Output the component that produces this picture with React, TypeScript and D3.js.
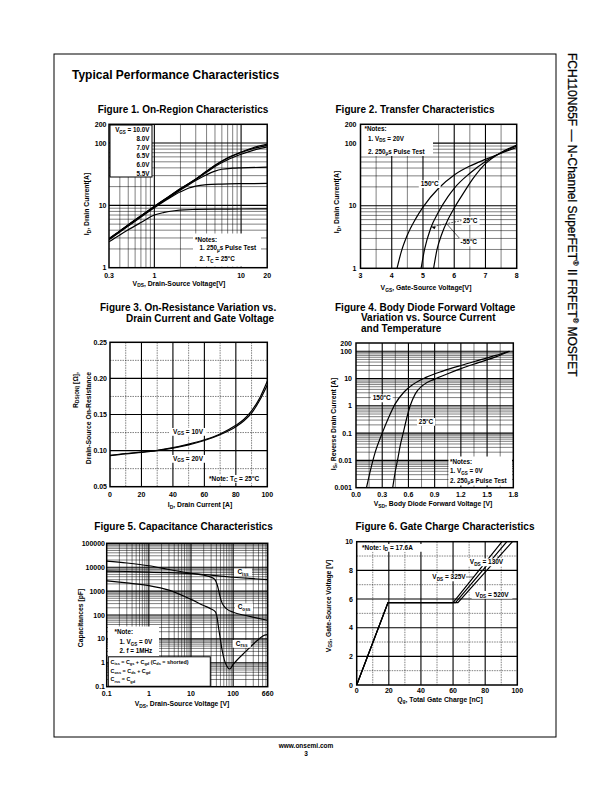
import React from "react";
import * as d3 from "d3";

type Pt = [number, number];
type Scale = (v: number) => number;

const FONT = "'Liberation Sans', Arial, Helvetica, sans-serif";

// ---------------- Figure 1: On-Region Characteristics ----------------
const fig1XTicks = [0.3, 1, 10, 20];
const fig1YTicks = [1, 10, 100, 200];
const fig1Vgs10: Pt[] = [[0.3, 2.95], [0.4, 3.9], [0.5, 4.9], [0.7, 6.8], [1, 9.7], [1.5, 14.2], [2, 18.6], [3, 26.5], [4, 35.5], [5, 44], [7, 58], [10, 72], [14, 85], [20, 96]];
const fig1Vgs8: Pt[] = [[0.3, 2.9], [0.5, 4.85], [1, 9.6], [1.5, 14.1], [2, 18.4], [3, 26.3], [4, 35], [5, 43.5], [7, 57], [10, 70.5], [14, 82], [20, 92]];
const fig1Vgs7: Pt[] = [[0.3, 2.88], [0.5, 4.8], [1, 9.5], [1.5, 13.9], [2, 18.2], [3, 26], [4, 34], [5, 42], [7, 54], [10, 66], [14, 77], [20, 87]];
const fig1Vgs65: Pt[] = [[0.3, 2.85], [0.5, 4.75], [1, 9.4], [1.5, 13.6], [2, 17.6], [2.5, 21.5], [3, 25], [4, 31], [5, 35.5], [6, 38], [8, 39.5], [10, 40], [20, 41]];
const fig1Vgs6: Pt[] = [[0.3, 2.8], [0.5, 4.65], [1, 9.2], [1.5, 13.2], [2, 16.5], [2.5, 19], [3, 20.4], [4, 21.5], [6, 22], [10, 22.3], [20, 22.5]];
const fig1Vgs55: Pt[] = [[0.3, 2.6], [0.4, 3.35], [0.5, 4.05], [0.7, 5.3], [1, 7.0], [1.3, 7.7], [1.7, 8.2], [2.2, 8.5], [3, 8.6], [5, 8.7], [10, 8.75], [20, 8.8]];
const fig1Legend = ["V_{GS} = 10.0V", "8.0V", "7.0V", "6.5V", "6.0V", "5.5V"];
const fig1Notes = ["*Notes:", "1. 250_{μ}s Pulse Test", "2. T_{C} = 25^{o}C"];

// ---------------- Figure 2: Transfer Characteristics ----------------
const fig2XTicks = [3, 4, 5, 6, 7, 8];
const fig2YTicks = [1, 10, 100, 200];
const fig2T150: Pt[] = [[4.17, 1], [4.3, 1.8], [4.5, 3.4], [4.75, 6], [5, 9.5], [5.5, 19], [6, 31], [6.5, 43], [7, 55], [7.5, 69], [8, 85]];
const fig2T25: Pt[] = [[4.94, 1], [5.05, 2], [5.25, 4.4], [5.5, 8], [5.8, 14], [6, 19], [6.5, 33], [7, 51], [7.5, 70], [8, 90]];
const fig2Tm55: Pt[] = [[5.34, 1], [5.45, 2], [5.6, 3.5], [5.8, 6], [6, 9.2], [6.3, 16], [6.6, 27], [7, 47], [7.5, 71], [8, 93]];
const fig2Notes = ["*Notes:", "1. V_{DS} = 20V", "2. 250_{μ}s Pulse Test"];

// ---------------- Figure 3: On-Resistance ----------------
const fig3XTicks = [0, 20, 40, 60, 80, 100];
const fig3YTicks = [0.05, 0.1, 0.15, 0.2, 0.25];
const fig3Vgs10: Pt[] = [[0, 0.0935], [10, 0.096], [20, 0.098], [30, 0.1005], [40, 0.104], [50, 0.109], [60, 0.115], [70, 0.123], [80, 0.135], [85, 0.143], [90, 0.155], [95, 0.172], [100, 0.196]];
const fig3Vgs20: Pt[] = [[0, 0.093], [10, 0.0955], [20, 0.0975], [30, 0.1], [40, 0.1035], [50, 0.108], [60, 0.114], [70, 0.122], [80, 0.133], [85, 0.141], [90, 0.152], [95, 0.169], [100, 0.191]];

// ---------------- Figure 4: Body Diode ----------------
const fig4XTicks = [0, 0.3, 0.6, 0.9, 1.2, 1.5, 1.8];
const fig4YTicks = [0.001, 0.01, 0.1, 1, 10, 100, 200];
const fig4T150: Pt[] = [[0.12, 0.001], [0.17, 0.005], [0.22, 0.02], [0.3, 0.1], [0.37, 0.35], [0.45, 1.2], [0.55, 3.2], [0.65, 6], [0.8, 11], [1.0, 19], [1.2, 30], [1.4, 46], [1.6, 70], [1.75, 100]];
const fig4T25: Pt[] = [[0.42, 0.001], [0.45, 0.004], [0.475, 0.01], [0.51, 0.04], [0.54, 0.1], [0.58, 0.35], [0.62, 1], [0.68, 2.8], [0.76, 5.5], [0.9, 9.5], [1.05, 15], [1.2, 23], [1.4, 38], [1.6, 62], [1.76, 100]];
const fig4Notes = ["*Notes:", "1. V_{GS} = 0V", "2. 250_{μ}s Pulse Test"];

// ---------------- Figure 5: Capacitance ----------------
const fig5XTicks = [0.1, 1, 10, 100, 660];
const fig5YTicks = [0.1, 1, 10, 100, 1000, 10000, 100000];
const fig5Ciss: Pt[] = [[0.1, 6900], [0.3, 6600], [1, 6200], [3, 5900], [10, 5400], [30, 4700], [50, 4200], [100, 3800], [300, 3300], [660, 3000]];
const fig5Coss: Pt[] = [[0.1, 18000], [0.3, 15000], [1, 11500], [3, 8000], [10, 5600], [20, 4600], [30, 3800], [37, 3000], [42, 1800], [47, 800], [52, 400], [58, 260], [70, 180], [100, 130], [200, 95], [400, 72], [660, 60]];
const fig5Crss: Pt[] = [[0.1, 2700], [0.3, 2200], [1, 1700], [3, 1100], [10, 450], [20, 250], [30, 180], [38, 135], [42, 70], [45, 30], [50, 9], [55, 3.2], [62, 1.3], [70, 0.75], [83, 0.55], [100, 0.85], [200, 3], [400, 9.5], [560, 14.5], [660, 15]];
const fig5Notes = ["*Note:", "1. V_{GS} = 0V", "2. f = 1MHz"];
const fig5Defs = ["C_{iss} = C_{gs} + C_{gd} (C_{ds} = shorted)", "C_{oss} = C_{ds} + C_{gd}", "C_{rss} = C_{gd}"];

// ---------------- Figure 6: Gate Charge ----------------
const fig6XTicks = [0, 20, 40, 60, 80, 100];
const fig6YTicks = [0, 2, 4, 6, 8, 10];
const fig6V130: Pt[] = [[0, 0], [19.5, 5.75], [60, 5.75], [90.5, 10]];
const fig6V325: Pt[] = [[0, 0], [19.5, 5.75], [61.5, 5.75], [93.5, 10]];
const fig6V520: Pt[] = [[0, 0], [19.5, 5.75], [63, 5.75], [97, 10]];

// ---------------- helpers ----------------
function rich(str: string, size: number) {
  const tokens = str.split(/(_\{[^}]*\}|\^\{[^}]*\})/).filter((s) => s.length);
  let shift = 0;
  return tokens.map((tk, i) => {
    let text = tk;
    let target = 0;
    let fs: number | undefined;
    if (tk.startsWith("_{")) {
      text = tk.slice(2, -1);
      target = size * 0.28;
      fs = size * 0.72;
    } else if (tk.startsWith("^{")) {
      text = tk.slice(2, -1);
      target = -size * 0.42;
      fs = size * 0.62;
    }
    const dy = target - shift;
    shift = target;
    return (
      <tspan key={i} dy={dy !== 0 ? dy : undefined} fontSize={fs}>
        {text}
      </tspan>
    );
  });
}

function plainLen(str: string) {
  return str.replace(/[_^]\{([^}]*)\}/g, "$1").length;
}

function T({ x, y, s, size = 7, anchor = "start", weight = "bold", rotate = 0 }: { x: number; y: number; s: string; size?: number; anchor?: string; weight?: string; rotate?: number }) {
  return (
    <text
      x={rotate ? 0 : x}
      y={rotate ? 0 : y}
      transform={rotate ? `translate(${x},${y}) rotate(${rotate})` : undefined}
      fontSize={size}
      fontWeight={weight}
      textAnchor={anchor}
      fontFamily={FONT}
      fill="#000"
    >
      {rich(s, size)}
    </text>
  );
}

function BgLabel({ x, y, s, size = 6.5, anchor = "middle" }: { x: number; y: number; s: string; size?: number; anchor?: string }) {
  const w = plainLen(s) * size * 0.58 + 3;
  const left = anchor === "middle" ? x - w / 2 : anchor === "end" ? x - w + 1.5 : x - 1.5;
  return (
    <g>
      <rect x={left} y={y - size * 0.85} width={w} height={size * 1.2} fill="#fff" />
      <T x={x} y={y} s={s} size={size} anchor={anchor} />
    </g>
  );
}

function logGrid(lo: number, hi: number) {
  const major: number[] = [];
  const minor: number[] = [];
  for (let e = Math.floor(Math.log10(lo)) - 1; e <= Math.ceil(Math.log10(hi)); e++) {
    for (let m = 1; m <= 9; m++) {
      const v = m * Math.pow(10, e);
      if (v > lo * 1.0001 && v < hi * 0.9999) (m === 1 ? major : minor).push(v);
    }
  }
  return { major, minor };
}

function linGrid(lo: number, hi: number, step: number, majorEvery: number) {
  const major: number[] = [];
  const minor: number[] = [];
  const n = Math.round((hi - lo) / step);
  for (let i = 1; i < n; i++) (i % majorEvery === 0 ? major : minor).push(lo + i * step);
  return { major, minor };
}

interface Box { x: number; y: number; w: number; h: number }

function Panel(props: {
  id: string;
  box: Box;
  xLog?: boolean;
  yLog?: boolean;
  xDomain: [number, number];
  yDomain: [number, number];
  xGrid: { major: number[]; minor: number[] };
  yGrid: { major: number[]; minor: number[] };
  xTicks: number[];
  yTicks: number[];
  xFmt: (v: number) => string;
  yFmt: (v: number) => string;
  xTickY: number;
  yTickX: number;
  series: Pt[][];
  linear?: boolean;
  minorDash?: string;
  overlay?: (sx: Scale, sy: Scale) => React.ReactNode;
}) {
  const { box, xDomain, yDomain } = props;
  const sx = (props.xLog ? d3.scaleLog() : d3.scaleLinear()).domain(xDomain).range([box.x, box.x + box.w]);
  const sy = (props.yLog ? d3.scaleLog() : d3.scaleLinear()).domain(yDomain).range([box.y + box.h, box.y]);
  const line = d3
    .line<Pt>()
    .x((d) => sx(d[0]))
    .y((d) => sy(d[1]))
    .curve(props.linear ? d3.curveLinear : d3.curveMonotoneX);
  const cid = "clip-" + props.id;
  return (
    <g>
      <defs>
        <clipPath id={cid}>
          <rect x={box.x} y={box.y} width={box.w} height={box.h} />
        </clipPath>
      </defs>
      <rect x={box.x} y={box.y} width={box.w} height={box.h} fill="#fff" />
      {props.xGrid.minor.map((v, i) => (
        <line key={"xm" + i} x1={sx(v)} x2={sx(v)} y1={box.y} y2={box.y + box.h} stroke="#000" strokeWidth={0.5} strokeDasharray={props.minorDash} />
      ))}
      {props.yGrid.minor.map((v, i) => (
        <line key={"ym" + i} x1={box.x} x2={box.x + box.w} y1={sy(v)} y2={sy(v)} stroke="#000" strokeWidth={0.5} strokeDasharray={props.minorDash} />
      ))}
      {props.xGrid.major.map((v, i) => (
        <line key={"xM" + i} x1={sx(v)} x2={sx(v)} y1={box.y} y2={box.y + box.h} stroke="#000" strokeWidth={1.1} />
      ))}
      {props.yGrid.major.map((v, i) => (
        <line key={"yM" + i} x1={box.x} x2={box.x + box.w} y1={sy(v)} y2={sy(v)} stroke="#000" strokeWidth={1.1} />
      ))}
      <g clipPath={`url(#${cid})`}>
        {props.series.map((s, i) => (
          <path key={"s" + i} d={line(s) || ""} fill="none" stroke="#000" strokeWidth={1.2} />
        ))}
      </g>
      {props.overlay ? props.overlay(sx, sy) : null}
      <rect x={box.x} y={box.y} width={box.w} height={box.h} fill="none" stroke="#000" strokeWidth={1.5} />
      {props.xTicks.map((v, i) => (
        <T key={"xt" + i} x={sx(v)} y={props.xTickY} s={props.xFmt(v)} anchor="middle" />
      ))}
      {props.yTicks.map((v, i) => (
        <T key={"yt" + i} x={props.yTickX} y={sy(v) + 2.5} s={props.yFmt(v)} anchor="end" />
      ))}
    </g>
  );
}

const fmtPlain = (v: number) => String(v);

export default function App() {
  const b1: Box = { x: 109, y: 124.3, w: 158.2, h: 143.4 };
  const b2: Box = { x: 360.5, y: 124.3, w: 156.2, h: 144 };
  const b3: Box = { x: 110, y: 342.3, w: 157.3, h: 144.4 };
  const b4: Box = { x: 356, y: 343, w: 157.3, h: 144.7 };
  const b5: Box = { x: 106.7, y: 543.3, w: 161, h: 143.4 };
  const b6: Box = { x: 356.7, y: 541.7, w: 160.6, h: 143.3 };

  const fig1Curves = [fig1Vgs10, fig1Vgs8, fig1Vgs7, fig1Vgs65, fig1Vgs6, fig1Vgs55];
  const fig2Curves = [fig2T150, fig2T25, fig2Tm55];
  const fig3Curves = [fig3Vgs10, fig3Vgs20];
  const fig4Curves = [fig4T150, fig4T25];
  const fig5Curves = [fig5Ciss, fig5Coss, fig5Crss];
  const fig6Curves = [fig6V130, fig6V325, fig6V520];

  return (
    <svg width={612} height={792} style={{ position: "absolute", left: 0, top: 0, background: "#fff" }} xmlns="http://www.w3.org/2000/svg">
      <rect x={0} y={0} width={612} height={792} fill="#fff" />
      {/* page frame */}
      <rect x={54} y={54} width={502} height={683} fill="none" stroke="#000" strokeWidth={1} />
      <T x={72} y={78.5} s="Typical Performance Characteristics" size={12} />

      {/* side title */}
      <text transform="translate(567.5,53) rotate(90)" fontSize={12} fontFamily={FONT} fill="#000" stroke="#000" strokeWidth={0.25}>
        {rich("FCH110N65F — N-Channel SuperFET^{®} II FRFET^{®} MOSFET", 12)}
      </text>

      {/* footer */}
      <T x={306} y={747.5} s="www.onsemi.com" size={6.5} anchor="middle" />
      <T x={306} y={756} s="3" size={6.5} anchor="middle" />

      {/* ---------- Figure 1 ---------- */}
      <T x={183} y={112.5} s="Figure 1. On-Region Characteristics" size={10} anchor="middle" />
      <Panel
        id="f1"
        box={b1}
        xLog
        yLog
        xDomain={[0.3, 20]}
        yDomain={[1, 200]}
        xGrid={logGrid(0.3, 20)}
        yGrid={logGrid(1, 200)}
        xTicks={fig1XTicks}
        yTicks={fig1YTicks}
        xFmt={fmtPlain}
        yFmt={fmtPlain}
        xTickY={277.5}
        yTickX={106.5}
        series={fig1Curves}
        overlay={() => (
          <g>
            <rect x={110} y={125} width={42} height={52} fill="#fff" stroke="#000" strokeWidth={1} />
            {fig1Legend.map((s, i) => (
              <T key={i} x={149.5} y={[131.8, 140.8, 149.8, 158.3, 166.5, 175.5][i]} s={s} size={6.3} anchor="end" />
            ))}
            <rect x={193} y={233.5} width={68} height={33} fill="#fff" />
            {fig1Notes.map((s, i) => (
              <T key={i} x={i === 0 ? 195 : 199.5} y={[241.8, 250, 261][i]} s={s} size={6.3} />
            ))}
          </g>
        )}
      />
      <T x={89} y={204} s="I_{D}, Drain Current[A]" size={6.8} anchor="middle" rotate={-90} />
      <T x={179} y={285.5} s="V_{DS}, Drain-Source Voltage[V]" size={6.8} anchor="middle" />

      {/* ---------- Figure 2 ---------- */}
      <T x={415} y={112.5} s="Figure 2. Transfer Characteristics" size={10} anchor="middle" />
      <Panel
        id="f2"
        box={b2}
        yLog
        xDomain={[3, 8]}
        yDomain={[1, 200]}
        xGrid={linGrid(3, 8, 0.5, 2)}
        yGrid={logGrid(1, 200)}
        xTicks={fig2XTicks}
        yTicks={fig2YTicks}
        xFmt={fmtPlain}
        yFmt={fmtPlain}
        xTickY={278}
        yTickX={356.5}
        series={fig2Curves}
        overlay={(sx, sy) => (
          <g>
            <rect x={361} y={125} width={72} height={31} fill="#fff" />
            {fig2Notes.map((s, i) => (
              <T key={i} x={i === 0 ? 364.5 : 368} y={[131, 140.5, 153.5][i]} s={s} size={6.3} />
            ))}
            <BgLabel x={429.7} y={185.8} s="150^{o}C" />
            <line x1={462} y1={220.5} x2={sx(5.27)} y2={sy(4.6)} stroke="#000" strokeWidth={0.6} strokeDasharray="2,1" />
            <path d={`M${sx(5.27)},${sy(4.6)} l4.5,-0.2 l-1.5,2.6 z`} fill="#000" />
            <BgLabel x={463} y={222.5} s="25^{o}C" anchor="start" />
            <line x1={461} y1={240} x2={sx(5.75)} y2={sy(5.2)} stroke="#000" strokeWidth={0.6} />
            <BgLabel x={460.5} y={244} s="-55^{o}C" anchor="start" />
          </g>
        )}
      />
      <T x={339} y={202} s="I_{D}, Drain Current[A]" size={6.8} anchor="middle" rotate={-90} />
      <T x={426} y={290} s="V_{GS}, Gate-Source Voltage[V]" size={6.8} anchor="middle" />

      {/* ---------- Figure 3 ---------- */}
      <T x={100} y={310.5} s="Figure 3. On-Resistance Variation vs." size={10} />
      <T x={126} y={321.5} s="Drain Current and Gate Voltage" size={10} />
      <Panel
        id="f3"
        box={b3}
        xDomain={[0, 100]}
        yDomain={[0.05, 0.25]}
        xGrid={linGrid(0, 100, 10, 2)}
        yGrid={linGrid(0.05, 0.25, 0.025, 2)}
        xTicks={fig3XTicks}
        yTicks={fig3YTicks}
        xFmt={fmtPlain}
        yFmt={(v) => v.toFixed(2)}
        xTickY={497}
        yTickX={107}
        series={fig3Curves}
        minorDash="1.5,1"
        overlay={() => (
          <g>
            <BgLabel x={188} y={433.5} s="V_{GS} = 10V" />
            <BgLabel x={188} y={460.5} s="V_{GS} = 20V" />
            <BgLabel x={209} y={480.5} s="*Note: T_{C} = 25^{o}C" anchor="start" />
          </g>
        )}
      />
      <T x={77.5} y={372} s="R_{DS(ON)} [Ω]," size={6.8} anchor="end" rotate={-90} />
      <T x={90.5} y={372} s="Drain-Source On-Resistance" size={6.8} anchor="end" rotate={-90} />
      <T x={200} y={507} s="I_{D}, Drain Current [A]" size={6.8} anchor="middle" />

      {/* ---------- Figure 4 ---------- */}
      <T x={335} y={310.5} s="Figure 4. Body Diode Forward Voltage" size={10} />
      <T x={361} y={321} s="Variation vs. Source Current" size={10} />
      <T x={361} y={331.5} s="and Temperature" size={10} />
      <Panel
        id="f4"
        box={b4}
        yLog
        xDomain={[0, 1.8]}
        yDomain={[0.001, 200]}
        xGrid={linGrid(0, 1.8, 0.15, 2)}
        yGrid={logGrid(0.001, 200)}
        xTicks={fig4XTicks}
        yTicks={fig4YTicks}
        xFmt={(v) => v.toFixed(1)}
        yFmt={fmtPlain}
        xTickY={497}
        yTickX={352}
        series={fig4Curves}
        overlay={() => (
          <g>
            <BgLabel x={381.7} y={400} s="150^{o}C" />
            <BgLabel x={426} y={423.5} s="25^{o}C" />
            <rect x={448.5} y={456.5} width={63.5} height={29} fill="#fff" />
            {fig4Notes.map((s, i) => (
              <T key={i} x={450} y={[463.5, 473, 482.5][i]} s={s} size={6.3} />
            ))}
          </g>
        )}
      />
      <T x={335.5} y={424} s="I_{S}, Reverse Drain Current [A]" size={6.8} anchor="middle" rotate={-90} />
      <T x={433} y={506} s="V_{SD}, Body Diode Forward Voltage [V]" size={6.8} anchor="middle" />

      {/* ---------- Figure 5 ---------- */}
      <T x={183.5} y={530} s="Figure 5. Capacitance Characteristics" size={10} anchor="middle" />
      <Panel
        id="f5"
        box={b5}
        xLog
        yLog
        xDomain={[0.1, 660]}
        yDomain={[0.1, 100000]}
        xGrid={logGrid(0.1, 660)}
        yGrid={logGrid(0.1, 100000)}
        xTicks={fig5XTicks}
        yTicks={fig5YTicks}
        xFmt={fmtPlain}
        yFmt={fmtPlain}
        xTickY={695.5}
        yTickX={105}
        series={fig5Curves}
        overlay={() => (
          <g>
            <BgLabel x={243} y={574} s="C_{iss}" />
            <BgLabel x={244} y={609} s="C_{oss}" />
            <BgLabel x={241.7} y={645.5} s="C_{rss}" />
            <rect x={108} y={626.5} width={51} height={30.5} fill="#fff" />
            {fig5Notes.map((s, i) => (
              <T key={i} x={i === 0 ? 114.5 : 119.5} y={[634, 644, 653][i]} s={s} size={6.3} />
            ))}
            <rect x={108.3} y={656.8} width={102} height={29.5} fill="#fff" stroke="#000" strokeWidth={1} />
            {fig5Defs.map((s, i) => (
              <T key={i} x={110.5} y={[663.5, 672.5, 681][i]} s={s} size={5.4} />
            ))}
          </g>
        )}
      />
      <T x={82.5} y={618} s="Capacitances [pF]" size={6.8} anchor="middle" rotate={-90} />
      <T x={182} y={706} s="V_{DS}, Drain-Source Voltage [V]" size={6.8} anchor="middle" />

      {/* ---------- Figure 6 ---------- */}
      <T x={445} y={530} s="Figure 6. Gate Charge Characteristics" size={10} anchor="middle" />
      <Panel
        id="f6"
        box={b6}
        xDomain={[0, 100]}
        yDomain={[0, 10]}
        xGrid={linGrid(0, 100, 10, 2)}
        yGrid={linGrid(0, 10, 1, 2)}
        xTicks={fig6XTicks}
        yTicks={fig6YTicks}
        xFmt={fmtPlain}
        yFmt={fmtPlain}
        xTickY={693}
        yTickX={353}
        series={fig6Curves}
        linear
        minorDash="1.5,1"
        overlay={() => (
          <g>
            <BgLabel x={362} y={549.5} s="*Note: I_{D} = 17.6A" anchor="start" />
            <BgLabel x={486.5} y={564} s="V_{DS} = 130V" />
            <BgLabel x={449} y={579} s="V_{DS} = 325V" />
            <line x1={466} y1={577} x2={474} y2={577} stroke="#000" strokeWidth={0.6} />
            <BgLabel x={492} y={596.5} s="V_{DS} = 520V" />
          </g>
        )}
      />
      <T x={330.5} y={606} s="V_{GS}, Gate-Source Voltage [V]" size={6.8} anchor="middle" rotate={-90} />
      <T x={440} y={701.5} s="Q_{g}, Total Gate Charge [nC]" size={6.8} anchor="middle" />
    </svg>
  );
}
